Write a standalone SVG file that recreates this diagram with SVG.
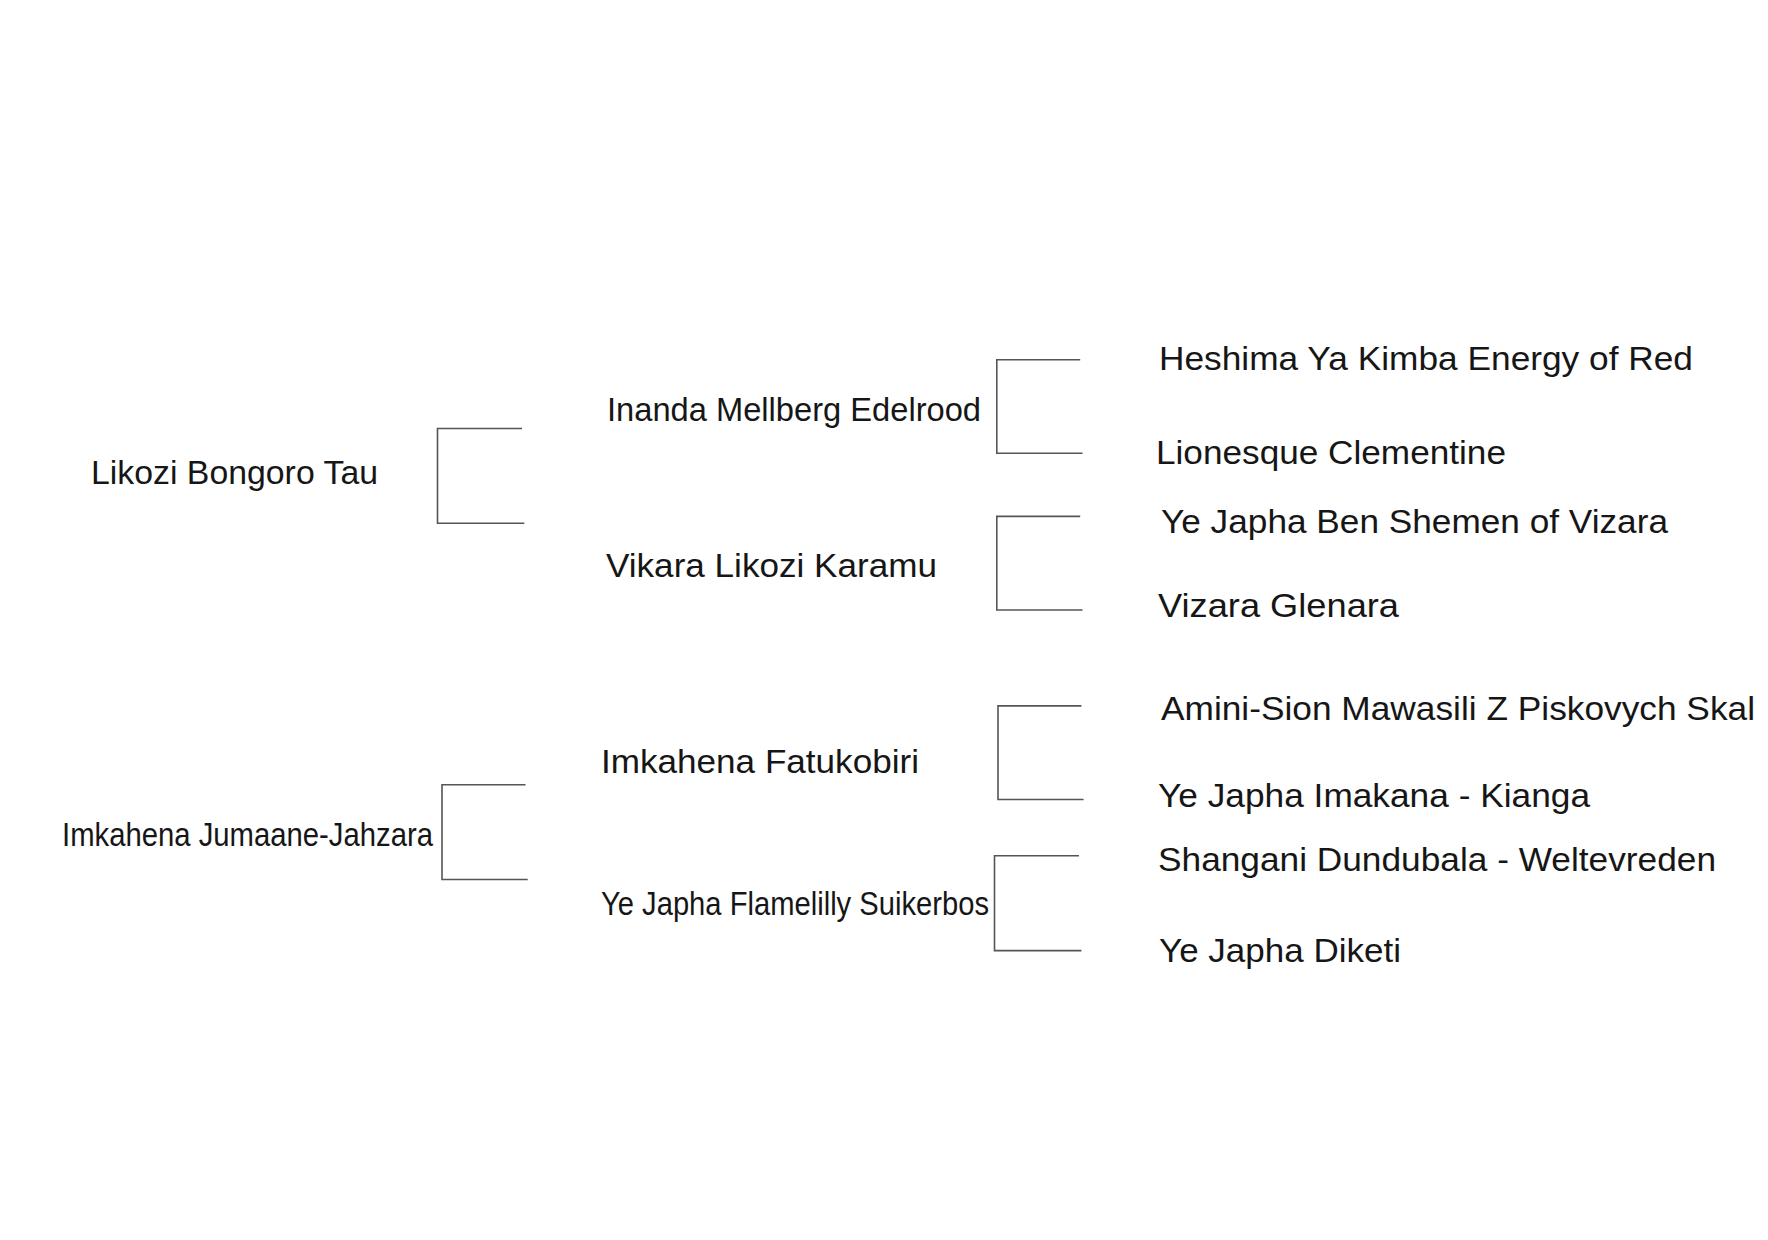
<svg xmlns="http://www.w3.org/2000/svg" width="1768" height="1240" viewBox="0 0 1768 1240">
<style>
.lbl{font-family:"Liberation Sans",Arial,Helvetica,sans-serif;font-size:34px;fill:#161616}
.br{fill:none;stroke:#555;stroke-width:1.6}
</style>
<rect width="1768" height="1240" fill="#fff"/>
<g id="connectors">
<path class="br" d="M522,428.5 H437.5 V523.2 H524.3"/>
<path class="br" d="M525.5,784.8 H442 V879.5 H527.7"/>
<path class="br" d="M1080.2,359.7 H996.8 V453.3 H1082.5"/>
<path class="br" d="M1080.2,516.4 H996.8 V610 H1082.5"/>
<path class="br" d="M1081.4,705.9 H998 V799.5 H1083.6"/>
<path class="br" d="M1079,855.8 H994.5 V950.6 H1081.4"/>
</g>
<g id="n1"><text class="lbl" x="91" y="484" textLength="287" lengthAdjust="spacingAndGlyphs">Likozi Bongoro Tau</text></g>
<g id="n2"><text class="lbl" x="62" y="845.5" textLength="371" lengthAdjust="spacingAndGlyphs">Imkahena Jumaane-Jahzara</text></g>
<g id="n3"><text class="lbl" x="607" y="421" textLength="374" lengthAdjust="spacingAndGlyphs">Inanda Mellberg Edelrood</text></g>
<g id="n4"><text class="lbl" x="606" y="577" textLength="331" lengthAdjust="spacingAndGlyphs">Vikara Likozi Karamu</text></g>
<g id="n5"><text class="lbl" x="601" y="773" textLength="318" lengthAdjust="spacingAndGlyphs">Imkahena Fatukobiri</text></g>
<g id="n6"><text class="lbl" x="601" y="915" textLength="388" lengthAdjust="spacingAndGlyphs">Ye Japha Flamelilly Suikerbos</text></g>
<g id="n7"><text class="lbl" x="1159" y="369.5" textLength="534" lengthAdjust="spacingAndGlyphs">Heshima Ya Kimba Energy of Red</text></g>
<g id="n8"><text class="lbl" x="1156" y="464" textLength="350" lengthAdjust="spacingAndGlyphs">Lionesque Clementine</text></g>
<g id="n9"><text class="lbl" x="1161" y="532.5" textLength="507" lengthAdjust="spacingAndGlyphs">Ye Japha Ben Shemen of Vizara</text></g>
<g id="n10"><text class="lbl" x="1158" y="617" textLength="241" lengthAdjust="spacingAndGlyphs">Vizara Glenara</text></g>
<g id="n11"><text class="lbl" x="1161" y="720" textLength="594" lengthAdjust="spacingAndGlyphs">Amini-Sion Mawasili Z Piskovych Skal</text></g>
<g id="n12"><text class="lbl" x="1158" y="807" textLength="432" lengthAdjust="spacingAndGlyphs">Ye Japha Imakana - Kianga</text></g>
<g id="n13"><text class="lbl" x="1158" y="871" textLength="558" lengthAdjust="spacingAndGlyphs">Shangani Dundubala - Weltevreden</text></g>
<g id="n14"><text class="lbl" x="1159" y="962" textLength="242" lengthAdjust="spacingAndGlyphs">Ye Japha Diketi</text></g>
</svg>
